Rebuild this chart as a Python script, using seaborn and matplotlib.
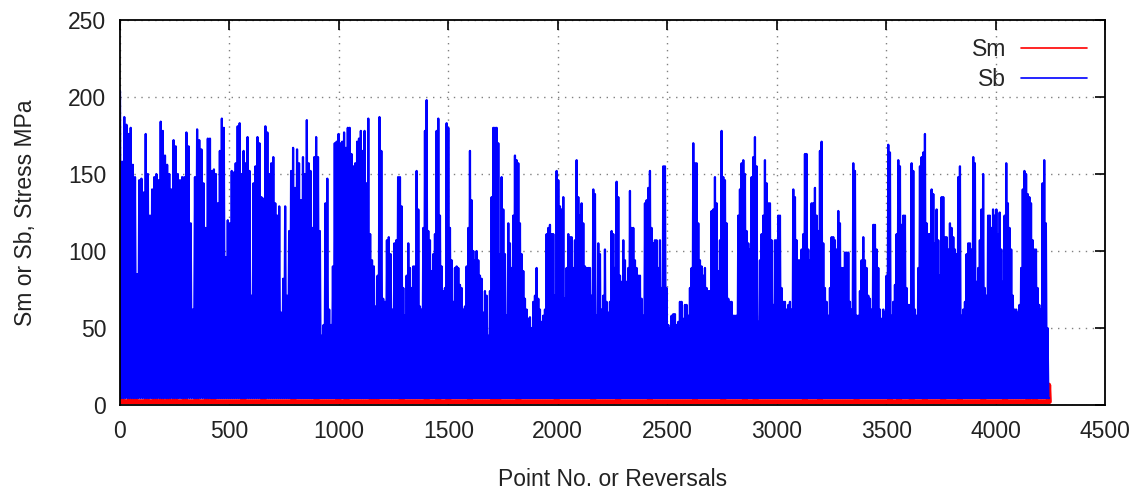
import numpy as np
import pandas as pd
import matplotlib
matplotlib.use("Agg")
import matplotlib.pyplot as plt
import seaborn as sns

# ---------------- data ----------------
# Point-number boundaries of the ten stretches the Sb peaks were read in
seg_edges = [0, 411, 845, 1279, 1713, 2147, 2581, 3015, 3449, 3883, 4245]

# Sb reversal peaks (MPa), read left to right within each stretch
sb_peaks_1 = [204, 158, 187, 182, 176, 180, 156, 148, 85, 146, 147, 138, 176, 150,
              123, 140, 148, 150, 146, 184, 178, 162, 156, 150, 140, 172, 168, 150,
              146, 148, 148, 177, 168, 118, 62, 148, 179, 172, 166, 144, 115, 173]
sb_peaks_2 = [173, 152, 153, 150, 131, 165, 186, 180, 96, 120, 118, 152, 151, 157,
              181, 183, 150, 165, 157, 174, 152, 71, 144, 155, 174, 170, 135, 134,
              181, 177, 150, 157, 161, 131, 123, 129, 60, 82, 129, 71, 113, 152,
              167, 141, 166, 157, 133, 161]
sb_peaks_3 = [150, 185, 157, 152, 115, 161, 174, 161, 113, 45, 52, 131, 147, 62,
              52, 90, 170, 171, 176, 170, 171, 177, 167, 180, 180, 163, 155, 157,
              171, 173, 178, 165, 178, 144, 186, 111, 94, 90, 64, 84, 187, 165, 69,
              67, 107, 109, 98, 62, 105, 107, 148]
sb_peaks_4 = [148, 129, 76, 58, 84, 105, 89, 76, 90, 90, 152, 127, 64, 62, 115,
              178, 198, 113, 107, 87, 98, 111, 178, 186, 123, 90, 74, 76, 183, 180,
              115, 94, 67, 89, 90, 89, 78, 76, 62, 64, 90, 115, 165, 133, 100, 94,
              100, 94, 84, 82, 60, 74, 71, 45, 74, 135, 180]
sb_peaks_5 = [180, 180, 170, 98, 148, 127, 98, 58, 118, 105, 89, 123, 162, 159,
              157, 118, 98, 87, 69, 62, 56, 57, 50, 67, 71, 89, 69, 62, 54, 58, 62,
              111, 115, 117, 111, 111, 71, 152, 146, 129, 127, 135, 69, 89, 111,
              109, 109, 89, 107, 159, 135, 123, 131, 118, 90, 89, 89]
sb_peaks_6 = [89, 71, 140, 137, 58, 105, 98, 62, 71, 101, 67, 60, 67, 113, 111,
              89, 145, 135, 84, 80, 107, 94, 80, 89, 139, 115, 115, 94, 89, 84, 84,
              69, 58, 131, 133, 141, 152, 115, 105, 107, 107, 89, 107, 76, 155, 155,
              76, 52, 50, 58, 59, 59, 52, 54, 67, 67, 56]
sb_peaks_7 = [65, 65, 58, 76, 89, 170, 157, 157, 118, 94, 90, 84, 89, 76, 74, 74,
              126, 127, 148, 131, 87, 107, 178, 148, 146, 118, 69, 67, 67, 58, 58,
              58, 123, 140, 157, 159, 150, 113, 105, 101, 148, 161, 174, 155, 54,
              94, 111, 123, 159, 144, 131, 131, 107, 65, 107, 107, 123]
sb_peaks_8 = [123, 76, 67, 67, 62, 65, 67, 62, 140, 135, 107, 94, 94, 101, 111,
              163, 163, 101, 94, 131, 131, 141, 123, 113, 165, 171, 105, 76, 67,
              58, 76, 109, 109, 107, 101, 126, 118, 89, 89, 99, 99, 99, 67, 62, 157,
              152, 58, 58, 74, 94, 109, 94, 89, 71, 69, 62, 117]
sb_peaks_9 = [117, 101, 89, 62, 56, 62, 60, 84, 169, 164, 58, 67, 78, 111, 159,
              155, 117, 123, 123, 76, 65, 65, 157, 152, 62, 58, 89, 155, 161, 164,
              176, 118, 111, 111, 140, 137, 105, 127, 107, 84, 135, 135, 109, 109,
              101, 118, 115, 109, 101, 98, 148, 155, 58, 62, 67, 98, 105]
sb_peaks_10 = [105, 101, 161, 157, 80, 89, 107, 127, 150, 76, 71, 123, 123, 115,
               127, 123, 127, 111, 125, 101, 80, 123, 157, 131, 115, 101, 71, 62,
               62, 60, 65, 89, 140, 152, 150, 137, 135, 131, 107, 101, 101, 76, 65,
               62, 144, 159, 118, 50]
sb_trough = 4.5   # Sb reversal valleys sit just above zero

# Sm spikes (point number, MPa) where the red trace shows; Sm rests near 2 MPa otherwise
sm_spike_x = [8, 46, 68, 122, 160, 190, 221, 251, 297, 350, 396, 426, 563, 655, 792,
              898, 997, 1035, 1150, 1172, 1287, 1401, 1454, 1500, 1599, 1705, 1728,
              1820, 1995, 2162, 2276, 2421, 2627, 2756, 2855, 2904, 3129, 3198, 3365,
              3518, 3559, 3617, 3677, 3761, 3837, 3944, 4043, 4150, 4180, 4243]
sm_spike_val = [55, 58, 45, 56, 57, 55, 50, 57, 48, 58, 57, 51, 56, 45, 50,
                40, 57, 55, 58, 55, 50, 62, 60, 62, 52, 50, 56,
                54, 60, 47, 45, 52, 47, 54, 54, 58, 56, 58, 45,
                54, 54, 51, 58, 50, 50, 51, 48, 50, 48, 13]
sm_base = 2.2

# ---------------- build series ----------------
sb_segments = [sb_peaks_1, sb_peaks_2, sb_peaks_3, sb_peaks_4, sb_peaks_5,
               sb_peaks_6, sb_peaks_7, sb_peaks_8, sb_peaks_9, sb_peaks_10]
sb_x, sb_y = [], []
for (a, b), peaks in zip(zip(seg_edges[:-1], seg_edges[1:]), sb_segments):
    n = len(peaks)
    xs = np.linspace(a, b, 2 * n, endpoint=False)
    ys = np.empty(2 * n)
    ys[0::2] = peaks
    ys[1::2] = sb_trough
    sb_x.extend(xs)
    sb_y.extend(ys)
sb_x.append(seg_edges[-1])
sb_y.append(sb_trough)
df_sb = pd.DataFrame({"x": sb_x, "y": sb_y})

sm_x, sm_y = [0], [sm_base]
for s, v in zip(sm_spike_x, sm_spike_val):
    sm_x += [s - 3, s, s + 3]
    sm_y += [sm_base, v, sm_base]
sm_x.append(seg_edges[-1])
sm_y.append(sm_base)
df_sm = pd.DataFrame({"x": sm_x, "y": sm_y})

# ---------------- plot ----------------
sns.set_style("white")
plt.rcParams["font.family"] = ["Liberation Sans", "DejaVu Sans"]
FS = 16.5

fig = plt.figure(figsize=(11.43, 4.98), dpi=100)
ax = fig.add_axes([120 / 1143, 1 - 405 / 498, 985 / 1143, 385 / 498])

sns.lineplot(data=df_sm, x="x", y="y", ax=ax, color="#ff0000", linewidth=3.5,
             sort=False, estimator=None, label="Sm")
sns.lineplot(data=df_sb, x="x", y="y", ax=ax, color="#0000ff", linewidth=1.6,
             sort=False, estimator=None, label="Sb")

ax.set_xlim(0, 4500)
ax.set_ylim(0, 250)
ax.set_xticks(np.arange(0, 4501, 500))
ax.set_yticks(np.arange(0, 251, 50))
ax.grid(True, color="#808080", linestyle=(0, (1, 4)), linewidth=1.0)
ax.set_axisbelow(True)
for sp in ax.spines.values():
    sp.set_visible(True)
    sp.set_color("black")
    sp.set_linewidth(1.3)
ax.tick_params(axis="both", direction="in", length=7, width=1.2, color="black",
               top=True, right=True, labelsize=FS, labelcolor="#222222")
ax.tick_params(axis="x", pad=11)
ax.tick_params(axis="y", pad=10)
ax.set_xlabel("Point No. or Reversals", fontsize=FS, color="#222222", labelpad=18)
ax.set_ylabel("Sm or Sb, Stress MPa", fontsize=FS, color="#222222", labelpad=22)

leg = ax.legend(loc="upper right", frameon=False, markerfirst=False, fontsize=FS,
                handlelength=2.85, handletextpad=0.65, labelspacing=0.3,
                borderaxespad=0.5, borderpad=0.3)
for line in leg.get_lines():
    line.set_linewidth(1.2)
    line.set_alpha(1)

fig.savefig("out.png", dpi=100, facecolor="white")
